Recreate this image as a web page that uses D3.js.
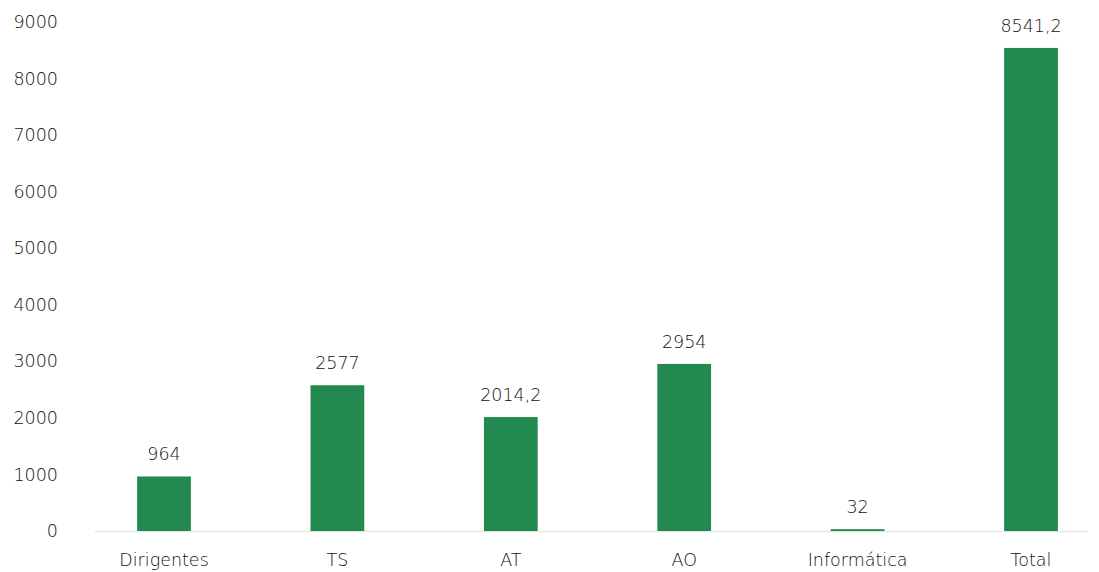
<!DOCTYPE html>
<html><head><meta charset="utf-8">
<script src="https://cdn.jsdelivr.net/npm/d3@7"></script>
<style>body{margin:0;background:#fff;} svg{display:block;} text{font-family:"DejaVu Sans",sans-serif;}</style>
</head><body><svg id="c" width="1099" height="572"></svg>
<script>
const categories = ["Dirigentes","TS","AT","AO","Informática","Total"];
const values = [964, 2577, 2014.2, 2954, 32, 8541.2];
const valueLabels = ["964","2577","2014,2","2954","32","8541,2"];
const yTicks = [0,1000,2000,3000,4000,5000,6000,7000,8000,9000];

const svg = d3.select("#c");
const y = d3.scaleLinear().domain([0,9000]).range([531,22]);
const x = d3.scaleBand().domain(categories).range([77.3,1117.7]).paddingInner(0.69).paddingOuter(0.345);
const fs = 17.5, col = "#111";

svg.append("line").attr("x1",95).attr("x2",1088).attr("y1",y(0)+0.5).attr("y2",y(0)+0.5)
  .attr("stroke","#e6e6e6").attr("stroke-width",1.5);

svg.append("g").selectAll("text").data(yTicks).join("text")
  .attr("x",58).attr("y",d=>y(d)).attr("dy","0.35em").attr("text-anchor","end")
  .attr("font-size",fs).attr("font-weight",300).attr("fill",col).text(d=>d);

svg.append("g").selectAll("rect").data(values).join("rect")
  .attr("x",(d,i)=>x(categories[i])).attr("width",x.bandwidth())
  .attr("y",d=>y(d)).attr("height",d=>y(0)-y(d)).attr("fill","#22894f");

svg.append("g").selectAll("text").data(values).join("text")
  .attr("x",(d,i)=>x(categories[i])+x.bandwidth()/2).attr("y",d=>y(d)-16)
  .attr("text-anchor","middle").attr("font-size",fs).attr("font-weight",300).attr("fill",col)
  .text((d,i)=>valueLabels[i]);

svg.append("g").selectAll("text").data(categories).join("text")
  .attr("x",d=>x(d)+x.bandwidth()/2).attr("y",566)
  .attr("text-anchor","middle").attr("font-size",fs).attr("font-weight",300).attr("fill",col).text(d=>d);
</script></body></html>
